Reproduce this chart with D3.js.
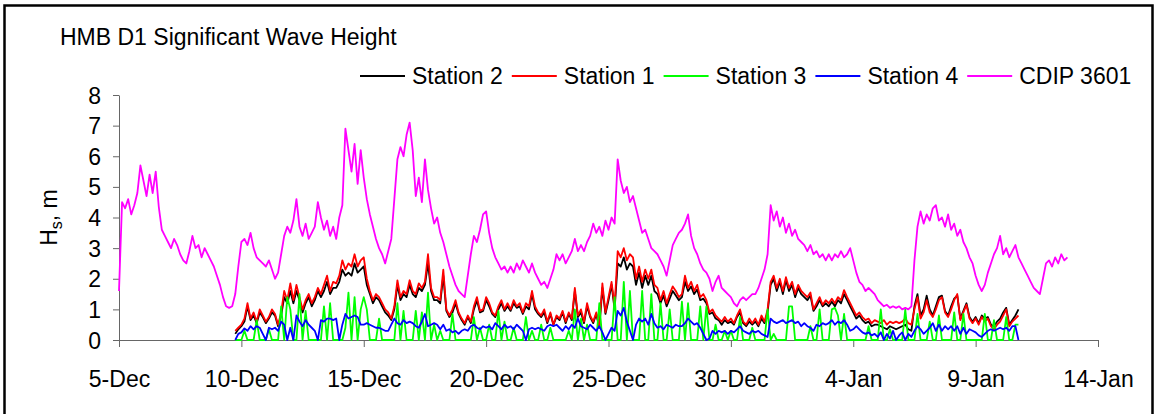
<!DOCTYPE html>
<html>
<head>
<meta charset="utf-8">
<title>HMB D1 Significant Wave Height</title>
<script src="https://cdn.jsdelivr.net/npm/d3@7"></script>
<style>
  body { margin: 0; background: #fff; }
  svg { display: block; font-family: "Liberation Sans", Arial, sans-serif; }
  .axis path, .axis line { stroke: #666; }
  .axis text { font-size: 23px; fill: #000; }
  .series { fill: none; stroke-width: 1.8px; stroke-linejoin: round; }
</style>
</head>
<body>
<svg width="1154" height="414"></svg>
<script>
// hourly-ish records, one value every 3 hours
var stepHours = 3;
var cdipStart = "2005-12-05 00:00";
var stationStart = "2005-12-09 18:00";

var seriesNames = ["Station 2", "Station 1", "Station 3", "Station 4", "CDIP 3601"];
var seriesColors = ["#000000", "#ff0000", "#00ff00", "#0000ff", "#ff00ff"];

var tickLabels = ["5-Dec", "10-Dec", "15-Dec", "20-Dec", "25-Dec", "30-Dec", "4-Jan", "9-Jan", "14-Jan"];
var tickDates = ["2005-12-05", "2005-12-10", "2005-12-15", "2005-12-20", "2005-12-25", "2005-12-30", "2006-01-04", "2006-01-09", "2006-01-14"];
var yTicks = [0, 1, 2, 3, 4, 5, 6, 7, 8];

var cdip3601 = [
  1.6, 4.5, 4.3, 4.6, 4.1, 4.4, 4.8, 5.7,
  5.2, 4.7, 5.4, 4.8, 5.5, 4.35, 3.6, 3.4,
  3.2, 3.0, 3.3, 3.1, 2.8, 2.6, 2.5, 2.9,
  3.4, 3.0, 3.1, 2.7, 3.0, 2.8, 2.6, 2.4,
  2.1, 1.8, 1.4, 1.1, 1.05, 1.1, 1.5, 2.4,
  3.2, 3.3, 3.1, 3.5, 3.0, 2.7, 2.6, 2.5,
  2.4, 2.6, 2.3, 2.0, 2.2, 2.8, 3.4, 3.7,
  3.5, 3.9, 4.6, 3.7, 3.4, 3.8, 3.3, 3.5,
  3.7, 4.5, 4.0, 3.6, 3.9, 3.4, 3.7, 3.3,
  4.0, 4.4, 6.9, 6.2, 5.5, 6.4, 5.1, 6.2,
  5.3, 4.6, 4.1, 3.7, 3.3, 3.0, 2.8, 2.5,
  2.9, 3.3, 4.6, 5.9, 6.3, 6.0, 6.7, 7.1,
  6.2, 4.7, 5.3, 4.5, 5.9, 4.9, 4.3, 3.8,
  4.0, 3.5, 3.2, 2.8, 2.4, 2.1, 1.8, 1.6,
  1.5, 1.4, 2.1, 2.8, 3.4, 3.2, 3.6, 4.1,
  4.2, 3.5, 3.0, 2.7, 2.5, 2.3, 2.4, 2.2,
  2.4, 2.2, 2.5, 2.3, 2.6, 2.4, 2.2, 2.5,
  2.2, 2.0, 1.8, 1.9, 1.7, 2.0, 2.3, 2.8,
  2.6, 2.8, 2.5, 2.7, 2.9, 3.3, 2.9, 3.1,
  2.9, 3.2, 3.4, 3.8, 3.5, 3.7, 3.4, 3.9,
  3.6, 4.0, 3.8, 5.9, 5.2, 4.8, 5.0, 4.5,
  4.7, 4.3, 3.9, 3.5, 3.6, 3.3, 3.0, 2.9,
  2.8, 2.6, 2.4, 2.1, 2.6, 3.1, 3.3, 3.5,
  3.6, 3.8, 4.1, 3.4, 3.0, 2.8, 2.5, 2.3,
  2.2, 2.0, 1.6, 1.9, 2.1, 1.7, 1.6, 1.5,
  1.4, 1.2, 1.1, 1.3, 1.4, 1.3, 1.4, 1.5,
  1.5, 1.7, 2.0, 2.3, 2.8, 4.4, 3.9, 4.2,
  3.7, 4.0, 3.5, 3.8, 3.4, 3.6, 3.3, 3.2,
  3.1, 2.9, 3.1, 2.8, 2.9, 2.7, 2.8, 2.6,
  2.8, 2.6, 2.8, 2.7, 2.9, 2.7, 2.8, 3.0,
  2.6, 2.2, 1.9, 1.8, 1.6, 1.7, 1.6, 1.5,
  1.3, 1.2, 1.1, 1.15, 1.05, 1.1, 1.05, 1.1,
  1.0, 1.05, 1.0, 1.1, 2.6, 3.7, 4.2, 3.8,
  4.1, 3.9, 4.3, 4.4, 3.9, 4.0, 3.7, 4.1,
  3.6, 3.8, 3.4, 3.6, 3.2, 3.0, 2.7, 2.5,
  2.1, 1.8, 1.6, 1.8, 2.2, 2.5, 2.8, 3.0,
  3.4, 2.8, 3.0, 2.7, 2.9, 3.1, 2.7, 2.5,
  2.3, 2.1, 1.9, 1.7, 1.6, 1.5, 2.0, 2.5,
  2.6, 2.4, 2.7, 2.5, 2.8, 2.6, 2.7
];

var station1 = [
  0.3, 0.4,
  0.5, 0.7, 1.2, 0.7, 0.9, 0.6, 1.0, 0.8,
  0.6, 0.75, 1.0, 0.85, 0.5, 0.9, 1.6, 1.3,
  1.85, 1.3, 1.8, 1.4, 1.0, 1.3, 1.5, 1.2,
  1.4, 1.7, 1.5, 1.8, 2.1, 1.6, 1.9, 1.85,
  2.1, 2.6, 2.3, 2.5, 2.4, 2.8, 2.4, 2.6,
  2.7, 2.0, 1.6, 1.3, 1.5, 1.4, 1.2, 1.0,
  0.9, 0.7, 1.1, 1.95, 1.4, 1.6, 1.5, 1.95,
  1.6, 1.5, 1.85, 1.7, 1.9, 2.8, 1.7, 1.4,
  1.4, 1.3, 2.3, 1.0, 0.8, 1.0, 1.3, 0.9,
  0.7, 0.55, 0.8, 0.6, 1.1, 1.4, 0.95, 1.0,
  1.4, 1.2, 0.9, 0.8, 1.1, 1.3, 1.0, 1.2,
  1.0, 1.3, 1.1, 1.2, 0.9, 1.2, 1.1, 1.6,
  1.1, 0.9, 0.8, 1.0, 0.6, 0.9, 0.5, 0.8,
  0.7, 0.95, 0.6, 0.9, 0.7, 1.7, 0.8, 1.0,
  0.6, 1.2, 0.8, 0.6, 0.9, 0.43, 1.85, 0.9,
  1.4, 1.9, 1.1, 2.9, 2.7, 3.0, 2.6, 2.8,
  2.7, 2.0, 2.4, 1.9, 2.3, 2.0, 2.3, 1.8,
  1.7, 1.3, 1.6, 1.2, 1.5, 1.75, 1.6, 1.4,
  1.5, 2.1, 1.7, 1.9, 1.6, 1.8, 1.4, 1.5,
  1.3, 0.9, 1.0, 0.8, 0.7, 0.6, 0.75, 0.6,
  0.7, 0.55, 0.8, 1.0, 0.6, 0.5, 0.7, 0.55,
  0.7, 0.5, 0.8, 0.6, 1.0, 1.9, 2.1, 1.7,
  2.0, 1.6, 2.05, 1.7, 1.9, 1.5, 1.8, 1.6,
  1.5, 1.4, 1.55, 1.0, 1.2, 1.4, 1.15, 1.3,
  1.2, 1.35, 1.2, 1.4, 1.3, 1.63, 1.4, 1.2,
  1.0, 0.8, 0.9, 0.75, 0.65, 0.7, 0.55, 0.65,
  0.6, 0.55, 0.65, 0.5, 0.6, 0.55, 0.6, 0.55,
  0.6, 0.7, 0.55, 0.5, 1.0, 1.4, 0.7, 0.9,
  1.3, 0.9, 0.75, 1.0, 1.3, 1.4, 0.9, 0.75,
  1.0, 1.3, 1.5, 0.65, 0.9, 1.15, 0.7, 0.55,
  0.7, 0.5, 0.75, 0.6, 0.7, 0.45, 0.35, 0.5,
  0.6, 0.8, 1.0, 0.45, 0.6, 0.7, 0.8
];

var station2 = [
  0.2, 0.35,
  0.45, 0.6, 1.1, 0.65, 0.8, 0.55, 0.9, 0.75,
  0.55, 0.7, 0.9, 0.8, 0.45, 0.8, 1.4, 1.2,
  1.6, 1.2, 1.6, 1.3, 0.9, 1.2, 1.4, 1.1,
  1.3, 1.6, 1.4, 1.6, 1.9, 1.5, 1.7, 1.7,
  1.9, 2.3, 2.1, 2.2, 2.1, 2.5, 2.2, 2.3,
  2.4, 1.8, 1.5, 1.2, 1.4, 1.3, 1.1, 0.9,
  0.8, 0.65, 1.0, 1.8, 1.3, 1.5, 1.4, 1.8,
  1.5, 1.4, 1.7, 1.6, 1.8, 2.5, 1.6, 1.3,
  1.3, 1.2, 2.1, 0.95, 0.75, 0.9, 1.2, 0.85,
  0.65, 0.5, 0.75, 0.55, 1.0, 1.3, 0.9, 0.95,
  1.3, 1.1, 0.85, 0.75, 1.0, 1.2, 0.95, 1.1,
  0.95, 1.2, 1.05, 1.1, 0.85, 1.1, 1.0, 1.5,
  1.0, 0.85, 0.75, 0.9, 0.55, 0.85, 0.5, 0.75,
  0.65, 0.9, 0.55, 0.85, 0.65, 1.6, 0.75, 0.9,
  0.55, 1.1, 0.75, 0.55, 0.85, 0.4, 1.7, 0.85,
  1.3, 1.8, 1.0, 2.5, 2.4, 2.7, 2.3, 2.5,
  2.4, 1.8, 2.2, 1.7, 2.1, 1.8, 2.1, 1.6,
  1.5, 1.2, 1.45, 1.1, 1.35, 1.6, 1.45, 1.3,
  1.4, 1.9, 1.6, 1.75, 1.5, 1.65, 1.3, 1.35,
  1.2, 0.85, 0.9, 0.7, 0.65, 0.5, 0.65, 0.55,
  0.6, 0.5, 0.75, 0.9, 0.55, 0.45, 0.6, 0.5,
  0.6, 0.45, 0.7, 0.55, 0.9, 1.8, 2.0, 1.6,
  1.9, 1.5, 1.95, 1.6, 1.8, 1.4, 1.7, 1.5,
  1.4, 1.3, 1.45, 0.95, 1.1, 1.3, 1.1, 1.2,
  1.1, 1.25, 1.1, 1.3, 1.2, 1.5, 1.3, 1.1,
  0.9, 0.7, 0.8, 0.65, 0.55, 0.6, 0.45, 0.5,
  0.5, 0.45, 0.4, 0.35, 0.45, 0.4, 0.35, 0.4,
  0.45, 0.5, 0.35, 0.3, 1.1, 1.5, 0.8, 1.0,
  1.45, 1.0, 0.8, 1.1, 1.4, 1.45, 0.95, 0.8,
  1.1, 1.35, 1.45, 0.7, 0.95, 1.2, 0.75, 0.6,
  0.75, 0.55, 0.8, 0.7, 0.75, 0.5, 0.45, 0.6,
  0.7, 0.9, 1.05, 0.5, 0.65, 0.8, 1.0
];

var station3 = [
  0, 0,
  0, 0.3, 0, 0, 0, 0.65, 0, 0,
  0, 0.35, 0, 0, 0, 1.1, 0, 1.4,
  1.0, 0, 0, 1.5, 0, 0.95, 0, 0,
  0, 0, 0, 1.1, 0, 1.2, 0, 0,
  0, 0, 0.4, 1.55, 0, 1.4, 0, 1.0,
  1.4, 1.0, 0, 0, 0, 0.7, 0, 0,
  0, 0, 0, 1.2, 0, 0.95, 0, 0,
  0, 0.95, 0, 0.9, 0, 1.55, 0, 0.5,
  0, 0.3, 0, 0, 0, 0.85, 0, 0,
  0, 0, 0, 0, 0.75, 0, 0.4, 0,
  0, 0.5, 0, 0, 0.95, 0, 0.6, 0,
  0, 0.4, 0, 0, 0, 0.75, 0, 0.3,
  0, 0, 0.5, 0, 0, 0.4, 0, 0,
  0, 0, 0, 0.3, 0, 1.0, 0, 0.7,
  0, 0.5, 0, 0, 0, 1.2, 0, 0,
  0, 0, 1.4, 0, 0, 1.9, 0, 1.6,
  0, 0, 0, 1.6, 0, 0, 1.5, 0,
  0, 1.2, 0, 0, 1.0, 0, 0, 0,
  1.25, 0, 1.2, 0, 0, 0, 1.1, 0,
  1.1, 0, 0, 0.5, 0, 0, 0.3, 0,
  0.3, 0, 0, 0.75, 0, 0, 0, 0.4,
  0, 0, 0, 0, 1.0, 0, 0.2, 0,
  0, 0, 0, 1.1, 1.1, 0, 0, 0,
  0, 0, 0.45, 0, 0, 1.0, 0, 0,
  0, 1.0, 1.05, 0.8, 0, 0.85, 0, 0,
  0, 0, 0, 0, 0, 0.45, 0, 0,
  0, 1.0, 0, 0, 0.35, 0, 0, 0,
  0, 1.0, 0, 0, 0, 0.85, 0, 0,
  0, 0.6, 0, 0, 0.8, 0, 0, 0,
  0, 0.9, 0, 0, 0.85, 0, 0, 0,
  0, 0, 0, 0.85, 0, 0, 0.65, 0,
  0, 0, 0.75, 0, 0, 0.5, 0.5
];

var station4 = [
  0, 0.2,
  0.25, 0.38, 0.3, 0.45, 0.35, 0.45, 0.4, 0.2,
  0, 0.4, 0.35, 0.4, 0.3, 0.6, 0.5, 0,
  0.4, 0, 0.8, 0.6, 0.45, 0.65, 0.5, 0.4,
  0.3, 0, 0.65, 0.6, 0.7, 0.7, 0.65, 0.7,
  0, 0.5, 0.85, 0.7, 0.75, 0.8, 0.75, 0.5,
  0.5, 0.55, 0.5, 0.45, 0.4, 0.4, 0.35, 0.3,
  0.3, 0.5, 0.7, 0.55, 0.5, 0.65, 0.55, 0.6,
  0.55, 0.45, 0.4, 0.6, 0.85, 0.45, 0.5, 0.55,
  0.5, 0.35, 0.5, 0.3, 0.35, 0.25, 0.3, 0.2,
  0.3, 0.35, 0.3, 0.45, 0.5, 0.4, 0.35, 0.45,
  0.4, 0.45, 0.35, 0.55, 0.45, 0.35, 0.5, 0.4,
  0.45, 0.35, 0.5, 0.4, 0.3, 0, 0.35, 0.4,
  0.35, 0.4, 0.35, 0.3, 0.45, 0.5, 0.45, 0.5,
  0.4, 0.3, 0.45, 0.35, 0.5, 0.4, 0.7, 0.45,
  0.4, 0.35, 0.5, 0.4, 0.3, 0.45, 0.25, 0,
  0.2, 0.4, 0.3, 0.95, 0.8, 1.05, 0.6, 0.3,
  0, 0.5, 0.7, 0.6, 0.7, 0.5, 0.85, 0.55,
  0.4, 0.45, 0.35, 0.5, 0.45, 0.4, 0.5, 0.45,
  0.45, 0.55, 0.7, 0.6, 0.5, 0.55, 0.4, 0.2,
  0, 0.05, 0.3, 0.2, 0.3, 0.25, 0.3, 0.2,
  0.3, 0.25, 0.35, 0.45, 0.3, 0.25, 0.2, 0.3,
  0.25, 0.3, 0.2, 0.15, 0.1, 0.7, 0.6, 0.55,
  0.6, 0.65, 0.55, 0.6, 0.65, 0.55, 0.6, 0.45,
  0.55, 0.45, 0.4, 0.3, 0.5, 0.45, 0.55, 0.5,
  0.55, 0.65, 0.5, 0.6, 0.55, 0.65, 0.5, 0.3,
  0.35, 0.45, 0.35, 0.25, 0.2, 0.25, 0.15, 0.2,
  0.1, 0.25, 0, 0.2, 0.05, 0.3, 0, 0.15,
  0.25, 0, 0.2, 0.1, 0.3, 0.45, 0.35, 0.2,
  0.3, 0.4, 0.55, 0.3, 0.5, 0.3, 0.45, 0.35,
  0.45, 0.3, 0.45, 0.2, 0.4, 0.2, 0.35, 0.3,
  0.25, 0.15, 0.1, 0.2, 0.3, 0.35, 0.3, 0.35,
  0.4, 0.35, 0.4, 0.3, 0.45, 0.45, 0
];

var parseTime = d3.timeParse("%Y-%m-%d %H:%M");
var parseDay = d3.timeParse("%Y-%m-%d");

function toPoints(values, start) {
  var t0 = parseTime(start);
  return values.map(function(v, i) {
    return { date: d3.timeHour.offset(t0, i * stepHours), value: v };
  });
}

var seriesData = [
  toPoints(station2, stationStart),
  toPoints(station1, stationStart),
  toPoints(station3, stationStart),
  toPoints(station4, stationStart),
  toPoints(cdip3601, cdipStart)
];

var svg = d3.select("svg");

var x = d3.scaleTime()
  .domain([parseDay(tickDates[0]), parseDay(tickDates[tickDates.length - 1])])
  .range([119, 1098]);

var y = d3.scaleLinear()
  .domain([0, 8])
  .range([340, 95]);

// frame around the chart
svg.append("path")
  .attr("d", "M4.5,420 V5.5 H1152.5 V420")
  .attr("fill", "none")
  .attr("stroke", "#000")
  .attr("stroke-width", 2.5);

// title
svg.append("text")
  .attr("x", 60)
  .attr("y", 45)
  .attr("font-size", 23)
  .text("HMB D1 Significant Wave Height");

// axes
var xAxis = d3.axisBottom(x)
  .tickValues(tickDates.map(parseDay))
  .tickFormat(function(d, i) { return tickLabels[i]; })
  .tickSize(7)
  .tickSizeOuter(0);

var gx = svg.append("g")
  .attr("class", "axis")
  .attr("transform", "translate(0," + y(0) + ")")
  .call(xAxis);
gx.selectAll("text").attr("y", 47).attr("dy", null);

var yAxis = d3.axisLeft(y)
  .tickValues(yTicks)
  .tickSize(6)
  .tickPadding(12)
  .tickSizeOuter(0);

var gy = svg.append("g")
  .attr("class", "axis")
  .attr("transform", "translate(" + x.range()[0] + ",0)")
  .call(yAxis);
gy.selectAll("text").attr("dy", "0.35em");

// y axis title with subscript
var yTitle = svg.append("text")
  .attr("transform", "translate(57," + ((y(0) + y(8)) / 2) + ") rotate(-90)")
  .attr("text-anchor", "middle")
  .attr("font-size", 23);
yTitle.append("tspan").text("H");
yTitle.append("tspan").attr("font-size", 16).attr("dy", 5).text("s");
yTitle.append("tspan").attr("dy", -5).text(", m");

// lines
var line = d3.line()
  .x(function(d) { return x(d.date); })
  .y(function(d) { return y(d.value); });

svg.append("g")
  .selectAll("path")
  .data(seriesData)
  .enter()
  .append("path")
  .attr("class", "series")
  .attr("stroke", function(d, i) { return seriesColors[i]; })
  .attr("d", line);

// legend
var legend = svg.append("g").attr("font-size", 23);
var lx = 360;
seriesNames.forEach(function(name, i) {
  legend.append("line")
    .attr("x1", lx).attr("x2", lx + 45)
    .attr("y1", 76).attr("y2", 76)
    .attr("stroke", seriesColors[i])
    .attr("stroke-width", 1.8);
  var t = legend.append("text")
    .attr("x", lx + 52)
    .attr("y", 84)
    .text(name);
  lx += 52 + t.node().getComputedTextLength() + 9;
});
</script>
</body>
</html>
